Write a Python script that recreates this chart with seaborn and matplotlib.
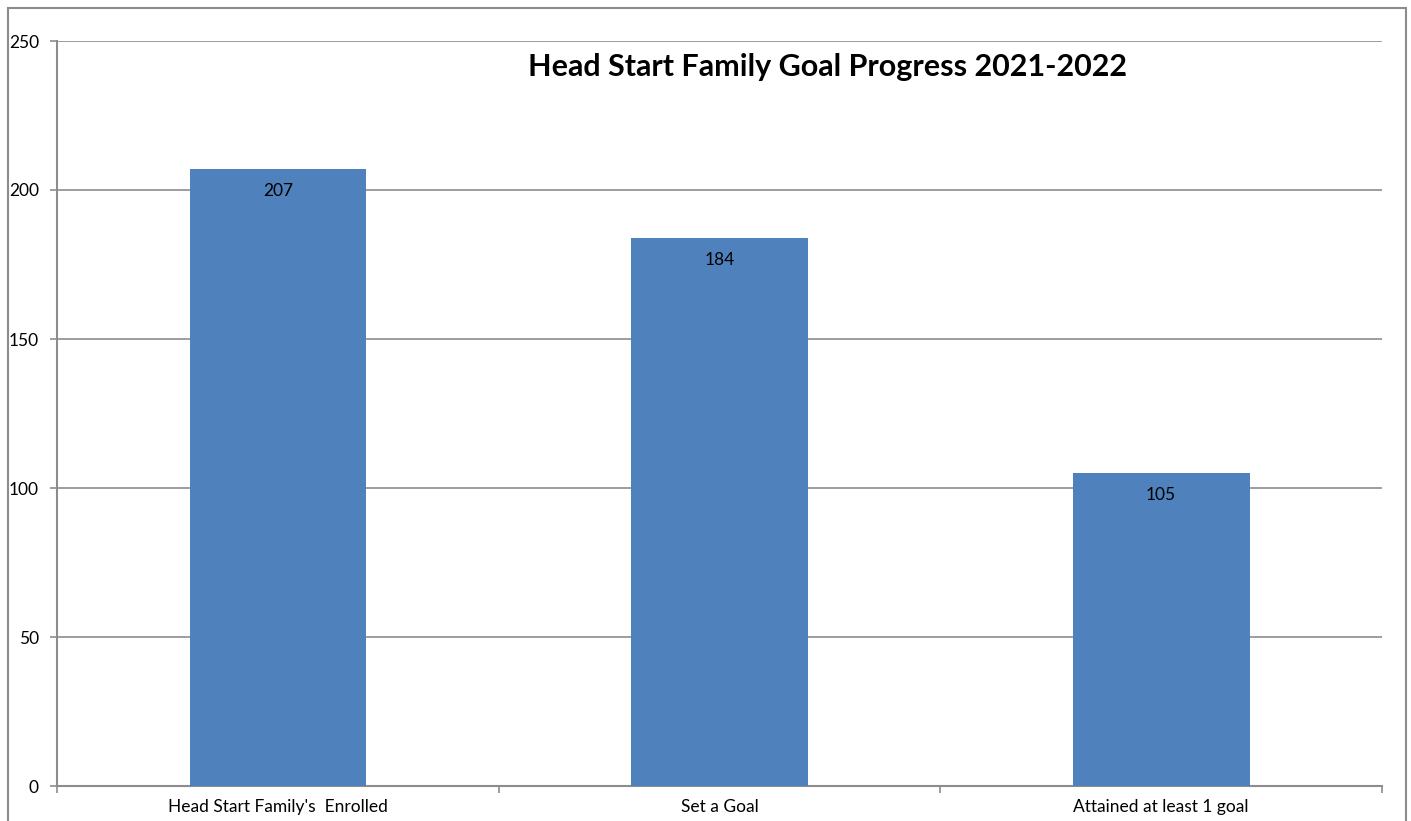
import matplotlib
matplotlib.use("Agg")
import matplotlib.pyplot as plt
from matplotlib.patches import Rectangle
import seaborn as sns
import pandas as pd
import numpy as np

categories = ["Head Start Family's  Enrolled", "Set a Goal", "Attained at least 1 goal"]
values = [207, 184, 105]
title = "Head Start Family Goal Progress 2021-2022"

sns.set_theme(style="white")
plt.rcParams['font.family'] = ['Lato', 'DejaVu Sans']

W, H = 1411, 821
fig = plt.figure(figsize=(W/100, H/100), dpi=100)
ax = fig.add_axes([57/W, 1-786/H, (1382-57)/W, (786-41)/H])

df = pd.DataFrame({"cat": categories, "val": values})
sns.barplot(data=df, x="cat", y="val", color="#4F81BD", saturation=1, width=0.4,
            edgecolor="none", linewidth=0, ax=ax, zorder=3)

ax.set_xlim(-0.5, 2.5)
ax.set_ylim(0, 250)
ax.set_yticks(np.arange(0, 251, 50))
ax.yaxis.grid(True, color="#8c8c8c", linewidth=1.2, zorder=0)
ax.set_axisbelow(True)
ax.set_xlabel("")
ax.set_ylabel("")
for s in ["top", "right"]:
    ax.spines[s].set_visible(False)
for s in ["left", "bottom"]:
    ax.spines[s].set_color("#8c8c8c")
    ax.spines[s].set_linewidth(1.5)

ax.tick_params(axis="y", which="major", left=True, length=5, width=1.2, color="#8c8c8c",
               labelsize=12.5, pad=8, labelcolor="black")
ax.set_xticks(range(len(categories)))
ax.set_xticklabels(categories)
ax.tick_params(axis="x", which="major", length=0, labelsize=12.5, pad=9, labelcolor="black")
ax.set_xticks([-0.5, 0.5, 1.5, 2.5], minor=True)
ax.tick_params(axis="x", which="minor", bottom=True, length=5, width=1.2, color="#8c8c8c")

for p, v in zip(ax.patches, values):
    ax.text(p.get_x() + p.get_width()/2, v - 7.5, str(v), ha="center", va="center",
            fontsize=12.5, color="black", zorder=4)

ax.text(0.5815, 0.965, title, transform=ax.transAxes, ha="center", va="center",
        fontsize=22, fontweight="bold", color="black")

fig.patches.append(Rectangle((8/W, -0.05), (1406-8)/W, 1.05 - 8/H, transform=fig.transFigure,
                             fill=False, edgecolor="#8c8c8c", linewidth=1.5))

fig.savefig("out.png", dpi=100, facecolor="white")
